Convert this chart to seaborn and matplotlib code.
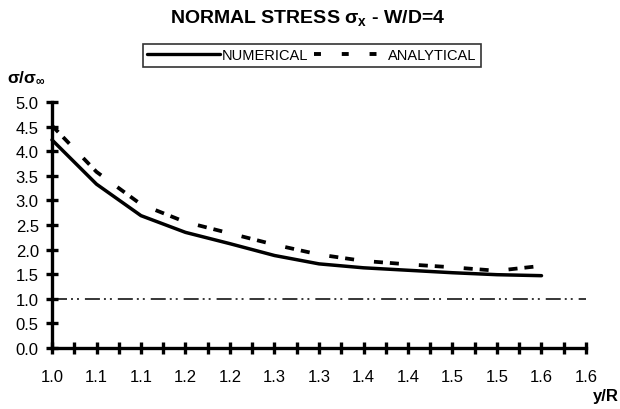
import matplotlib
matplotlib.use("Agg")
import matplotlib.pyplot as plt
from matplotlib.lines import Line2D
from matplotlib.ticker import FixedLocator, MultipleLocator
import pandas as pd
import seaborn as sns

# Normalised distance from the hole edge and stress concentration values
y_over_r = [1.00, 1.05, 1.10, 1.15, 1.20, 1.25, 1.30, 1.35, 1.40, 1.45, 1.50, 1.55]
numerical = [4.23, 3.33, 2.69, 2.35, 2.12, 1.88, 1.71, 1.63, 1.58, 1.53, 1.49, 1.47]
analytical = [4.52, 3.58, 2.92, 2.56, 2.33, 2.10, 1.90, 1.77, 1.70, 1.64, 1.57, 1.67]
far_field_level = 1.0

x_ticks = [1.00, 1.05, 1.10, 1.15, 1.20, 1.25, 1.30, 1.35, 1.40, 1.45, 1.50, 1.55, 1.60]
x_tick_labels = ["1.0", "1.1", "1.1", "1.2", "1.2", "1.3", "1.3",
                 "1.4", "1.4", "1.5", "1.5", "1.6", "1.6"]
y_ticks = [0.0, 0.5, 1.0, 1.5, 2.0, 2.5, 3.0, 3.5, 4.0, 4.5, 5.0]
y_tick_labels = ["0.0", "0.5", "1.0", "1.5", "2.0", "2.5", "3.0", "3.5", "4.0", "4.5", "5.0"]

sns.set_theme(style="white")
plt.rcParams["font.family"] = ["Liberation Sans", "DejaVu Sans"]
plt.rcParams["lines.scale_dashes"] = False
plt.rcParams["mathtext.fontset"] = "custom"
plt.rcParams["mathtext.rm"] = "Liberation Sans"
plt.rcParams["mathtext.bf"] = "Liberation Sans:bold"
plt.rcParams["mathtext.default"] = "bf"

fig = plt.figure(figsize=(6.2, 4.1), dpi=100)
ax = fig.add_axes([52 / 620, 61 / 410, 534 / 620, 246 / 410])

df = pd.DataFrame({"y/R": y_over_r, "NUMERICAL": numerical, "ANALYTICAL": analytical})

sns.lineplot(data=df, x="y/R", y="NUMERICAL", ax=ax, color="black",
             linewidth=2.5, clip_on=False, legend=False)
sns.lineplot(data=df, x="y/R", y="ANALYTICAL", ax=ax, color="black",
             linewidth=2.7, linestyle=(0, (6.5, 5.0, 6.5, 14.4)),
             clip_on=False, legend=False)

# Far-field reference level
ref = pd.DataFrame({"x": [x_ticks[0], x_ticks[-1]],
                    "y": [far_field_level, far_field_level]})
sns.lineplot(data=ref, x="x", y="y", ax=ax, color="black", linewidth=1.1,
             linestyle=(0, (10.8, 2.9, 1.4, 2.9, 1.4, 4.3)), legend=False)

ax.set_xlim(x_ticks[0], x_ticks[-1])
ax.set_ylim(y_ticks[0], y_ticks[-1])
ax.set_xlabel("")
ax.set_ylabel("")

ax.xaxis.set_major_locator(FixedLocator(x_ticks))
ax.set_xticklabels(x_tick_labels)
ax.xaxis.set_minor_locator(MultipleLocator(0.025))
ax.yaxis.set_major_locator(FixedLocator(y_ticks))
ax.set_yticklabels(y_tick_labels)

for side in ("top", "right"):
    ax.spines[side].set_visible(False)
for side in ("left", "bottom"):
    ax.spines[side].set_color("black")
    ax.spines[side].set_linewidth(2.4)

ax.tick_params(axis="both", which="both", bottom=True, left=True,
               direction="inout", length=8, width=2.4, color="black",
               labelcolor="black", labelsize=12)
ax.tick_params(axis="x", which="both", pad=11)
ax.tick_params(axis="y", which="both", pad=5.5)

fig.text(0.497, 1 - 18 / 410, r"NORMAL STRESS $σ_{x}$ - W/D=4",
         ha="center", va="center", fontsize=14, fontweight="bold", color="black")

handles = [
    Line2D([], [], color="black", linewidth=2.4),
    Line2D([], [], color="black", linewidth=2.8, linestyle=(0, (5.0, 15.0))),
]
leg = fig.legend(handles, ["NUMERICAL", "ANALYTICAL"], loc="center",
                 bbox_to_anchor=(312 / 620, 1 - 56.5 / 410), ncol=2,
                 frameon=True, fancybox=False, shadow=False,
                 handlelength=5.0, handletextpad=0.1, columnspacing=0.4,
                 fontsize=10.5, borderpad=0.3, borderaxespad=0)
leg.get_frame().set_edgecolor("black")
leg.get_frame().set_linewidth(1.2)
for t in leg.get_texts():
    t.set_color("black")

fig.text(7 / 620, 1 - 78 / 410, r"σ/σ$_{∞}$", ha="left", va="center",
         fontsize=12.5, fontweight="bold", color="black")
fig.text(619 / 620, 1 - 397 / 410, "y/R", ha="right", va="center",
         fontsize=12, fontweight="bold", color="black")

fig.savefig("out.png", dpi=100, facecolor="white")
